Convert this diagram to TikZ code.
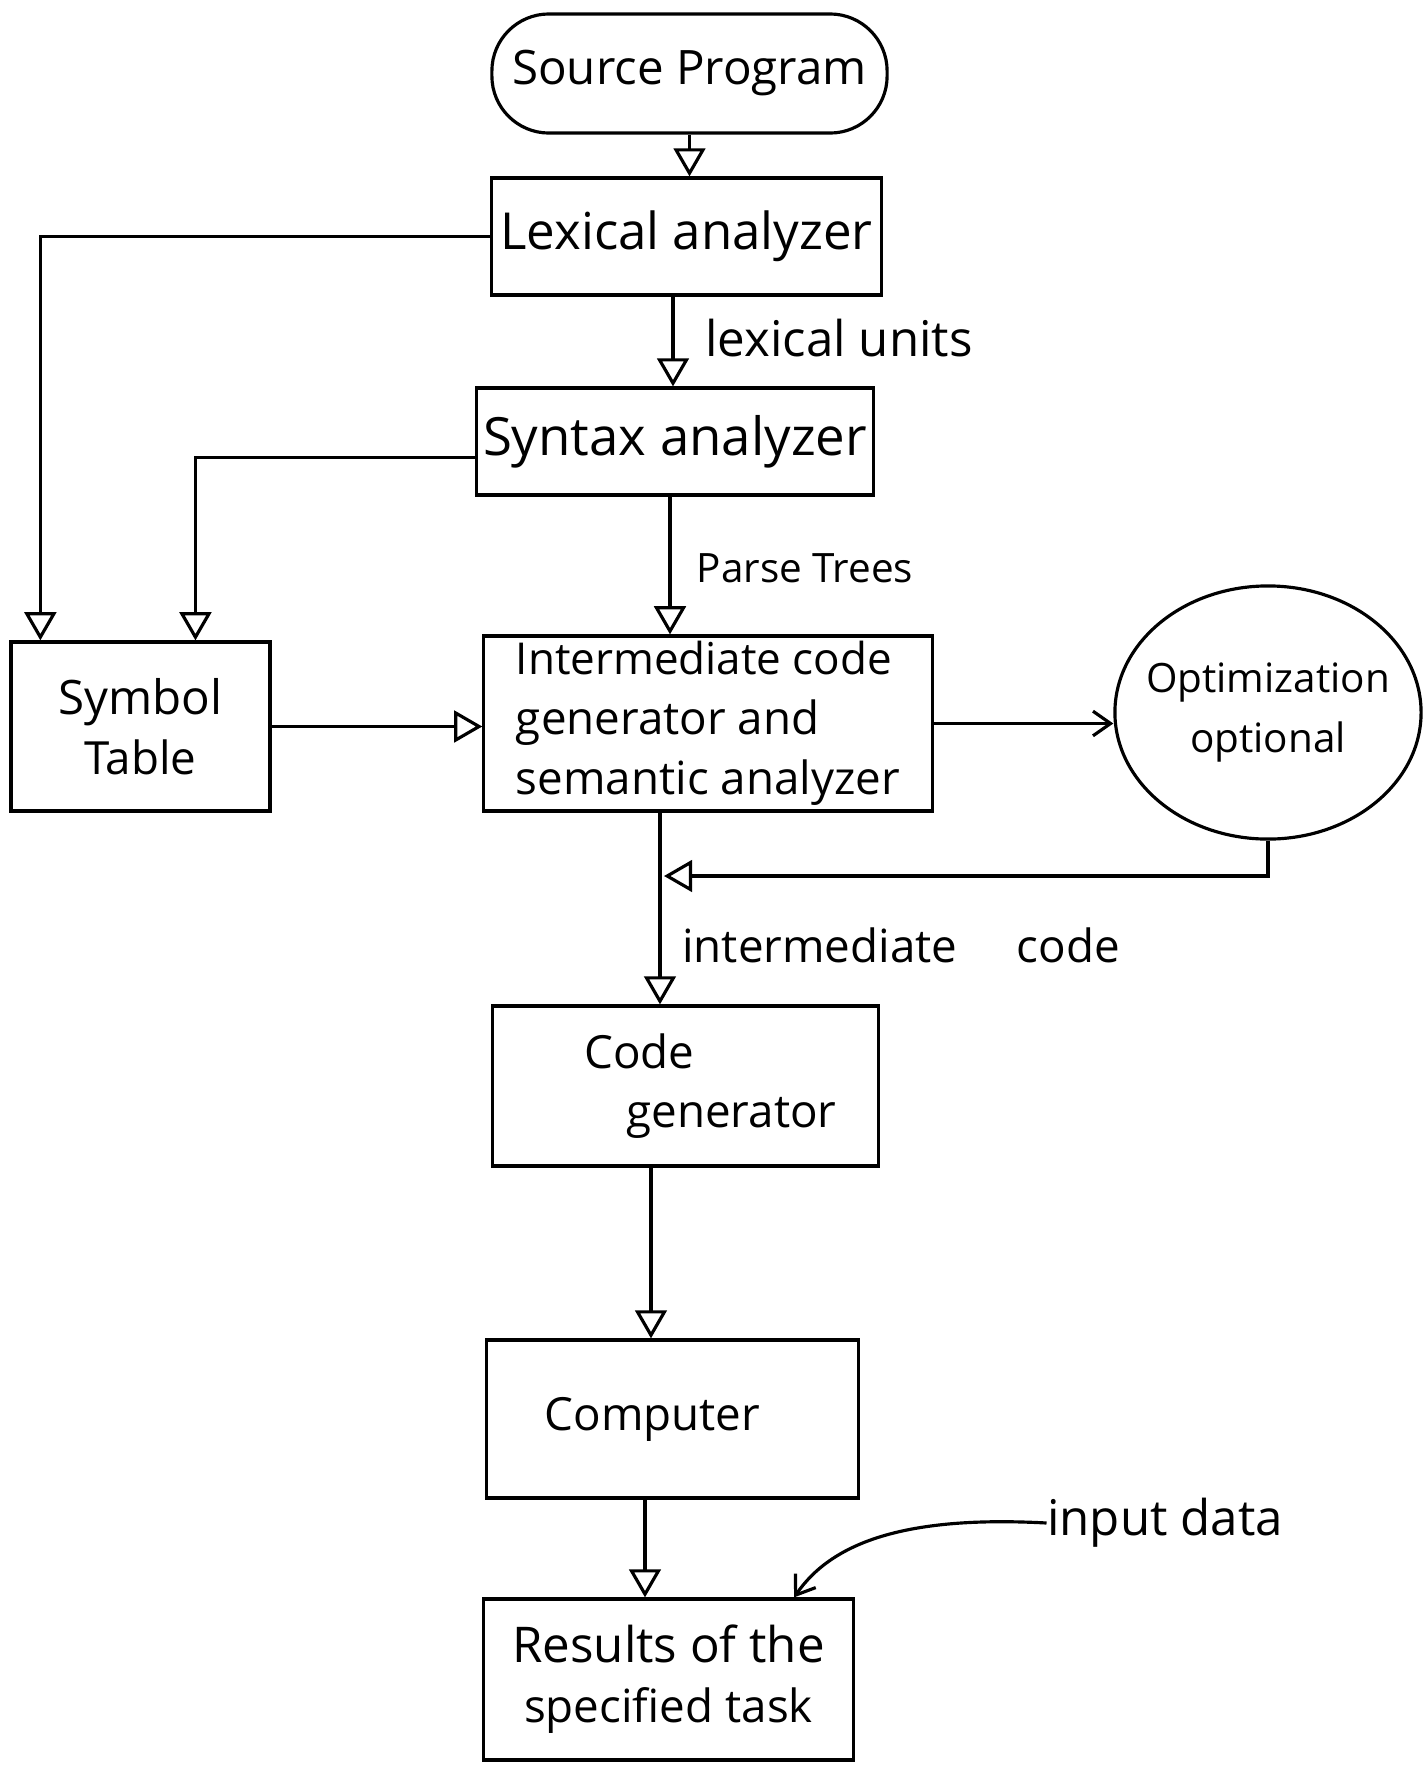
\documentclass[tikz,border=0pt]{standalone}
\usepackage{fontspec}
\setmainfont{Open Sans}
\usetikzlibrary{arrows.meta,shapes.geometric}
\newcommand{\fs}[2]{\fontsize{#1}{#2}\selectfont}
\begin{document}
\begin{tikzpicture}[x=0.01cm,y=-0.01cm,
  every node/.style={font=\fs{13}{17}},
  box/.style={draw,line width=0.9pt,rectangle,inner sep=0pt,align=center},
  arr/.style={line width=0.9pt,-{Triangle[open,length=8pt,width=9pt]}},
  stick/.style={line width=0.9pt,-{Straight Barb[length=5pt,width=7pt]}},
  lbl/.style={inner sep=0pt}]
\useasboundingbox (0,0) rectangle (1428,1766);
% nodes
\node[box,rounded corners=0.57cm,minimum width=3.95cm,minimum height=1.19cm] (src) at (689.5,73.5) {\fs{13.5}{17}Source Program};
\node[box,minimum width=3.89cm,minimum height=1.17cm] (lex) at (686.5,236.5) {\fs{14.5}{17}Lexical analyzer};
\node[box,minimum width=3.96cm,minimum height=1.07cm] (syn) at (675,441.5) {\fs{15}{17}Syntax analyzer};
\node[box,minimum width=2.59cm,minimum height=1.69cm] (sym) at (140.5,726.5) {\fs{13.5}{19}Symbol\\Table};
\node[box,minimum width=4.48cm,minimum height=1.75cm,align=left] (inter) at (708,723.5) {\fs{12.5}{14}Intermediate code\\generator and\\semantic analyzer};
\node[draw,line width=0.9pt,ellipse,minimum width=3.06cm,minimum height=2.53cm,inner sep=0pt,
  label={[font=\fs{11.5}{17},align=center]center:Optimization\\optional}] (opt) at (1268,712.5) {};
\node[box,minimum width=3.85cm,minimum height=1.60cm,align=left] (code) at (685.5,1086) {\fs{13}{13}\hspace*{0.5cm}Code\\\hspace*{0.92cm}generator};
\node[box,minimum width=3.71cm,minimum height=1.58cm] (comp) at (672.5,1419) {\hspace*{0cm}Computer\hspace*{0.4cm}};
\node[box,minimum width=3.69cm,minimum height=1.61cm] (res) at (668.5,1679.5) {\fs{14}{18}Results of the\\specified task};
\node[lbl] (lu) at (839,338) {\fs{14}{17}lexical units};
\node[lbl] (pt) at (805,568) {\fs{11.5}{17}Parse Trees};
\node[lbl] (ic) at (901,945) {intermediate\hspace{1.3em}code};
\node[lbl] (inp) at (1165,1523) {\fs{14}{17}input data};
\coordinate (ret) at (664,876);
% connectors
\draw[arr] (src.south) -- (src.south |- lex.north);
\draw[arr] ([xshift=-0.135cm]lex.south) -- ([xshift=-0.135cm]lex.south |- syn.north);
\draw[arr] (lex.west) -| ([xshift=0.31cm]sym.north west);
\draw[arr] ([yshift=-0.16cm]syn.west) -| ([xshift=1.86cm]sym.north west);
\draw[arr] ([xshift=-0.05cm]syn.south) -- ([xshift=-0.05cm]syn.south |- inter.north);
\draw[arr] (sym.east) -- (sym.east -| inter.west);
\draw[stick] (inter.east) -- (inter.east -| opt.west);
\draw[arr] (opt.south) |- (ret);
\draw[arr] ([xshift=-0.48cm]inter.south) -- ([xshift=-0.48cm]inter.south |- code.north);
\draw[arr] ([xshift=-0.345cm]code.south) -- ([xshift=-0.345cm]code.south |- comp.north);
\draw[arr] ([xshift=-0.275cm]comp.south) -- ([xshift=-0.275cm]comp.south |- res.north);
\draw[stick] (inp.west) .. controls (900,1515) and (830,1545) .. ([xshift=1.255cm]res.north);
\end{tikzpicture}
\end{document}
